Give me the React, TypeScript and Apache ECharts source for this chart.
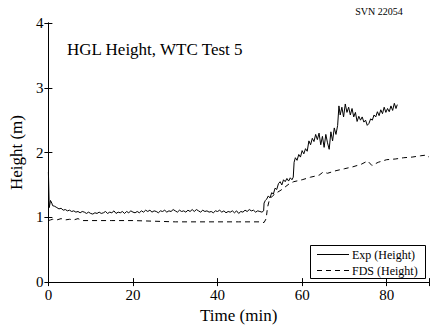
import React, { useEffect, useRef } from "react";
import * as echarts from "echarts";

const FONT = "Liberation Serif";

const chartTitle = "HGL Height, WTC Test 5";
const stamp = "SVN 22054";
const seriesNames = ["Exp (Height)", "FDS (Height)"];
const xTickValues = [0, 20, 40, 60, 80];
const yTickValues = [0, 1, 2, 3, 4];

const expT = [
  0, 0.2, 0.5, 0.8, 1, 1.5, 2, 2.5, 3, 3.5, 4, 4.5, 5, 5.5, 6, 6.5, 7, 7.5, 8, 8.5, 9, 9.5,
  10, 10.5, 11, 11.5, 12, 12.5, 13, 13.5, 14, 14.5, 15, 15.5, 16, 16.5, 17, 17.5, 18, 18.5, 19, 19.5,
  20, 20.5, 21, 21.5, 22, 22.5, 23, 23.5, 24, 24.5, 25, 25.5, 26, 26.5, 27, 27.5, 28, 28.5, 29, 29.5,
  30, 30.5, 31, 31.5, 32, 32.5, 33, 33.5, 34, 34.5, 35, 35.5, 36, 36.5, 37, 37.5, 38, 38.5, 39, 39.5,
  40, 40.5, 41, 41.5, 42, 42.5, 43, 43.5, 44, 44.5, 45, 45.5, 46, 46.5, 47, 47.5, 48, 48.5, 49, 49.5,
  50, 50.5, 50.9, 51.0, 51.3, 51.6, 52.0, 52.4, 52.8, 53.2, 53.6, 54.0, 54.4, 54.8, 55.2, 55.6, 56.0,
  56.4, 56.8, 57.2, 57.6, 57.9, 58.1, 58.4, 58.8, 59.2, 59.6, 60.0, 60.4, 60.8, 61.2, 61.6, 62.0, 62.4,
  62.8, 63.2, 63.6, 64.0, 64.4, 64.8, 65.2, 65.6, 66.0, 66.4, 66.8, 67.2, 67.6, 68.0, 68.4, 68.7, 69.0,
  69.4, 69.8, 70.2, 70.6, 71.0, 71.4, 71.8, 72.2, 72.6, 73.0, 73.4, 73.8, 74.2, 74.6, 75.0, 75.4, 75.8,
  76.2, 76.6, 77.0, 77.4, 77.8, 78.2, 78.6, 79.0, 79.4, 79.8, 80.2, 80.6, 81.0, 81.4, 81.8, 82.2, 82.5,
];
const expH = [
  1.70, 1.15, 1.26, 1.22, 1.18, 1.17, 1.15, 1.13, 1.14, 1.11, 1.12, 1.10, 1.11, 1.09, 1.10, 1.08, 1.09, 1.07, 1.09, 1.08, 1.06, 1.08,
  1.06, 1.05, 1.07, 1.06, 1.08, 1.06, 1.07, 1.09, 1.06, 1.08, 1.07, 1.10, 1.06, 1.08, 1.07, 1.09, 1.06, 1.09, 1.07, 1.10,
  1.08, 1.07, 1.09, 1.07, 1.10, 1.08, 1.11, 1.09, 1.11, 1.08, 1.10, 1.09, 1.07, 1.10, 1.09, 1.11, 1.08, 1.10, 1.09, 1.12,
  1.10, 1.08, 1.11, 1.09, 1.10, 1.08, 1.11, 1.09, 1.12, 1.09, 1.12, 1.10, 1.08, 1.11, 1.09, 1.10, 1.08, 1.09, 1.07, 1.10,
  1.09, 1.11, 1.08, 1.10, 1.07, 1.09, 1.08, 1.10, 1.07, 1.10, 1.06, 1.09, 1.08, 1.11, 1.09, 1.12, 1.10, 1.11, 1.08, 1.10,
  1.09, 1.08, 1.10, 1.22, 1.26, 1.28, 1.33, 1.30, 1.38, 1.36, 1.45, 1.43, 1.52, 1.55, 1.50, 1.58, 1.55,
  1.60, 1.56, 1.61, 1.58, 1.62, 1.85, 1.92, 1.88, 1.97, 1.93, 2.03, 1.98, 2.06, 2.02, 2.18, 2.12, 2.22,
  2.17, 2.28, 2.20, 2.30, 2.12, 2.25, 2.08, 2.28, 2.15, 2.05, 2.32, 2.18, 2.38, 2.28, 2.42, 2.72, 2.58,
  2.70, 2.55, 2.75, 2.62, 2.70, 2.58, 2.68, 2.55, 2.62, 2.48, 2.56, 2.50, 2.55, 2.47, 2.50, 2.42, 2.45,
  2.52, 2.50, 2.58, 2.55, 2.63, 2.57, 2.66, 2.60, 2.70, 2.62, 2.68, 2.63, 2.72, 2.65, 2.76, 2.68, 2.74,
];

const fdsT = [
  0, 0.5, 1, 2, 3, 4, 5, 6, 7, 8, 10, 15, 20, 25, 30, 35, 40, 45, 50, 51, 51.5, 51.8, 52.3, 53, 54, 55,
  56, 57, 58, 60, 62, 64, 65, 66, 68, 70, 72, 74, 75.5, 76.5, 78, 80, 82, 84, 86, 88, 89.3, 90,
];
const fdsH = [
  0.95, 0.96, 0.97, 0.96, 0.98, 0.96, 0.97, 0.96, 0.98, 0.95, 0.95, 0.95, 0.95, 0.94, 0.93, 0.93, 0.93, 0.93, 0.93, 0.92, 0.98, 1.15, 1.28, 1.33, 1.38, 1.42,
  1.47, 1.52, 1.55, 1.58, 1.62, 1.65, 1.70, 1.68, 1.72, 1.75, 1.78, 1.82, 1.87, 1.80, 1.85, 1.89, 1.90, 1.92, 1.93, 1.95, 1.96, 1.93,
];

export default function App() {
  const ref = useRef<HTMLDivElement>(null);
  useEffect(() => {
    if (!ref.current) return;
    const chart = echarts.init(ref.current, null, { renderer: "svg" });
    const expData = expT.map((t, i) => [t, expH[i]]);
    const fdsData = fdsT.map((t, i) => [t, fdsH[i]]);
    const axisCommon = {
      type: "value" as const,
      axisLine: { show: true, lineStyle: { color: "#000", width: 1 } },
      axisTick: { show: true, inside: true, length: 4, lineStyle: { color: "#000" } },
      splitLine: { show: false },
    };
    const labelStyle = {
      fontFamily: FONT,
      fontSize: 15,
      fontWeight: "normal" as const,
      color: "#000",
      margin: 5,
    };
    const nameStyle = {
      fontFamily: FONT,
      fontSize: 17,
      fontWeight: "normal" as const,
      color: "#000",
    };
    const legendText = {
      fontFamily: FONT,
      fontSize: 12,
      fill: "#000",
      textVerticalAlign: "middle",
    };
    chart.setOption({
      animation: false,
      backgroundColor: "#fff",
      grid: { left: 48, right: 4, top: 23, bottom: 46 },
      xAxis: [
        {
          ...axisCommon,
          position: "bottom",
          min: 0,
          max: 90,
          interval: 20,
          name: "Time (min)",
          nameLocation: "middle",
          nameGap: 18,
          nameTextStyle: nameStyle,
          axisLabel: {
            ...labelStyle,
            formatter: (v: number) => (xTickValues.includes(v) ? String(v) : ""),
          },
        },
        {
          ...axisCommon,
          position: "top",
          min: 0,
          max: 90,
          interval: 20,
          axisLabel: { show: false },
        },
      ],
      yAxis: [
        {
          ...axisCommon,
          position: "left",
          min: 0,
          max: 4,
          interval: 1,
          name: "Height (m)",
          nameLocation: "middle",
          nameGap: 14,
          nameTextStyle: nameStyle,
          axisLabel: {
            ...labelStyle,
            formatter: (v: number) => (yTickValues.includes(v) ? String(v) : ""),
          },
        },
        {
          ...axisCommon,
          position: "right",
          min: 0,
          max: 4,
          interval: 1,
          axisLabel: { show: false },
        },
      ],
      graphic: [
        {
          type: "text",
          left: 67,
          top: 41,
          style: { text: chartTitle, fontFamily: FONT, fontSize: 17, fill: "#000" },
        },
        {
          type: "text",
          x: 379,
          y: 11,
          style: {
            text: stamp,
            fontFamily: FONT,
            fontSize: 10,
            fill: "#000",
            textAlign: "center",
            textVerticalAlign: "middle",
          },
        },
        {
          type: "group",
          z: 100,
          children: [
            {
              type: "rect",
              shape: { x: 310.5, y: 245.5, width: 115, height: 33 },
              style: { fill: "#fff", stroke: "#000", lineWidth: 1 },
            },
            {
              type: "line",
              shape: { x1: 317, y1: 254.5, x2: 349, y2: 254.5 },
              style: { stroke: "#000", lineWidth: 1 },
            },
            {
              type: "text",
              x: 352,
              y: 254.5,
              style: { ...legendText, text: seriesNames[0] },
            },
            {
              type: "line",
              shape: { x1: 317, y1: 270.5, x2: 349, y2: 270.5 },
              style: { stroke: "#000", lineWidth: 1, lineDash: [5, 4] },
            },
            {
              type: "text",
              x: 352,
              y: 270.5,
              style: { ...legendText, text: seriesNames[1] },
            },
          ],
        },
      ],
      series: [
        {
          name: seriesNames[0],
          type: "line",
          data: expData,
          showSymbol: false,
          symbol: "none",
          lineStyle: { color: "#000", width: 1 },
          itemStyle: { color: "#000" },
          xAxisIndex: 0,
          yAxisIndex: 0,
        },
        {
          name: seriesNames[1],
          type: "line",
          data: fdsData,
          showSymbol: false,
          symbol: "none",
          lineStyle: { color: "#000", width: 1, type: [5, 4] },
          itemStyle: { color: "#000" },
          xAxisIndex: 0,
          yAxisIndex: 0,
        },
      ],
    });
    return () => chart.dispose();
  }, []);
  return (
    <div
      ref={ref}
      style={{ position: "absolute", left: 0, top: 0, width: 433, height: 329 }}
    />
  );
}
